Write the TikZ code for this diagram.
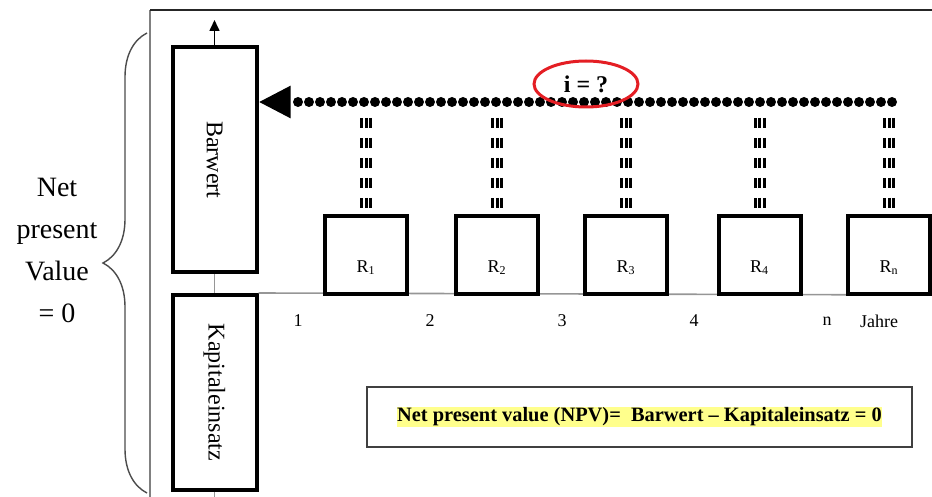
\documentclass[tikz,border=0pt]{standalone}
\usepackage{fontspec}
\setmainfont{Liberation Serif}
\usetikzlibrary{arrows.meta,shapes.geometric,decorations.pathreplacing}
\definecolor{hilite}{RGB}{255,255,140}
\definecolor{ringred}{RGB}{228,30,36}
\definecolor{axisgray}{RGB}{150,150,150}

\begin{document}
\begin{tikzpicture}[x=0.5pt,y=-0.5pt,
    bigbox/.style={draw, line width=2pt, minimum width=42pt, inner sep=0pt,
      font=\fontsize{12}{14}\selectfont},
    rbox/.style={draw, line width=2pt, minimum width=41pt, minimum height=39pt, inner sep=0pt},
    rlabel/.style={font=\fontsize{9}{10}\selectfont},
    yearlabel/.style={font=\fontsize{9}{10}\selectfont},
    pillar/.style={line width=6pt, dash pattern=on 5pt off 5pt,
      postaction={draw=white, line width=3pt, dash pattern=on 5pt off 5pt},
      postaction={draw=black, line width=1.5pt, dash pattern=on 5pt off 5pt}},
    dotline/.style={line width=5pt, line cap=round, dash pattern=on 0pt off 5.5pt,
      -{Triangle[length=16pt,width=15pt]}},
    thinline/.style={draw=axisgray, line width=0.8pt}]
  \useasboundingbox (0,0) rectangle (932,497);

  \draw[draw=gray, line width=0.8pt] (150,497) -- (150,10);
  \draw[draw=black!85, line width=1pt] (150,10) -- (932,10);

  \node[font=\fontsize{14}{21}\selectfont, align=center] (npvleft) at (57,250)
    {Net\\present\\Value\\= 0};
  \draw[draw=black!70, line width=0.7pt, decorate, decoration={brace, amplitude=22pt}]
    (147,493) -- (147,33);

  \node[bigbox, minimum height=112.75pt] (barwert) at (214.5,159.75) {\rotatebox{-90}{Barwert}};
  \node[bigbox, minimum height=97.5pt] (kapital) at (214.5,392.5) {\rotatebox{-90}{Kapitaleinsatz}};
  \coordinate (uptip) at (214.5,20);
  \coordinate (downend) at (214.5,497);
  \coordinate (axisend) at (932,295);
  \draw[-{Triangle[length=5.5pt,width=5pt]}, line width=0.8pt] (barwert.north) -- (uptip);
  \draw[thinline] (barwert.south) -- (kapital.north);
  \draw[thinline] (kapital.south) -- (downend);
  \draw[thinline] (kapital.north east) -- (axisend);

  \coordinate (pillartop) at (0,118);
  \foreach \x/\n in {366/1,497/2,626/3,759.5/4,889/n} {
    \node[rbox] (r\n) at (\x,255) {};
    \node[rlabel] (rlab\n) at ([yshift=-6.5pt]r\n.center) {R\textsubscript{\n}};
    \draw[pillar] (r\n.north |- pillartop) -- (r\n.north);
  }

  \foreach \x/\t [count=\i] in {298/1,430/2,562/3,694/4,827/n,879/Jahre}
    \node[yearlabel] (year\i) at (\x,321) {\t};

  \coordinate (dotstart) at (892,102);
  \draw[dotline] (dotstart) -- (dotstart -| barwert.east);
  \node[ellipse, draw=ringred, line width=1.5pt, minimum width=52pt, minimum height=23pt,
    inner sep=0pt, font=\bfseries\fontsize{12}{13}\selectfont] (rate) at (586,84) {i = ?};

  \node[draw=black!75, line width=1pt, minimum width=272.5pt, minimum height=30pt]
    (npvframe) at (639.5,417) {};
  \node[fill=hilite, inner sep=0.3pt, font=\bfseries\fontsize{10.2}{11}\selectfont]
    (npv) at (npvframe.center) {Net present value (NPV)=\ \ Barwert -- Kapitaleinsatz = 0};
\end{tikzpicture}
\end{document}
